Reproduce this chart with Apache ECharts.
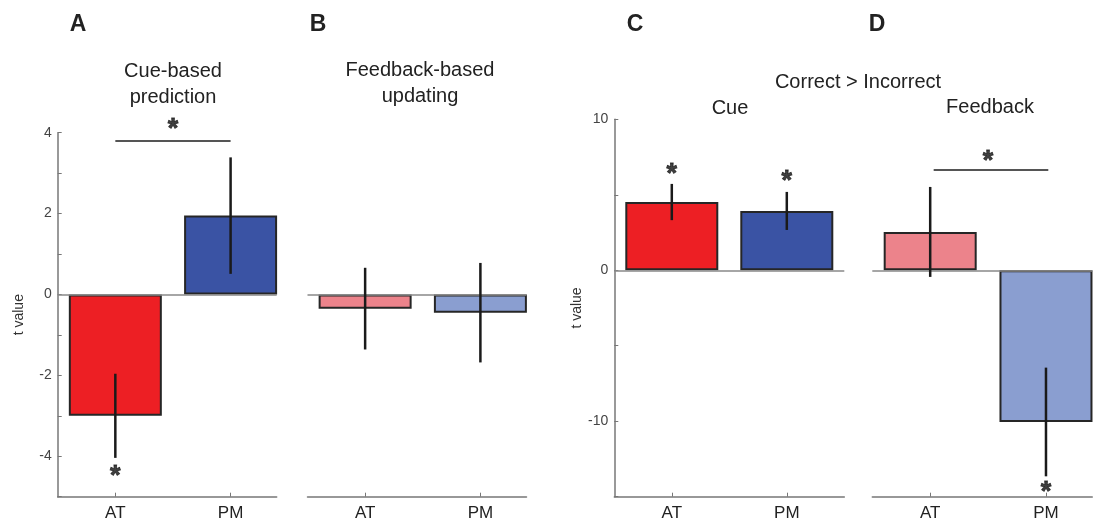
<!DOCTYPE html>
<html>
<head>
<meta charset="utf-8">
<script src="https://cdn.jsdelivr.net/npm/echarts@6/dist/echarts.min.js"></script>
<style>
  html, body { margin: 0; padding: 0; background: #fff; }
  #main { width: 1093px; height: 523px; }
</style>
</head>
<body>
<div id="main"></div>
<script>
// categories and values
var categories = ['AT', 'PM'];

var predMean = [-3.0, 1.95];   // A: cue-based prediction
var predErr = [1.04, 1.44];
var updMean = [-0.35, -0.45];  // B: feedback-based updating
var updErr = [1.01, 1.23];
var cueMean = [4.52, 3.93];    // C: correct > incorrect, cue
var cueErr = [1.2, 1.26];
var fbMean = [2.54, -10.05];   // D: correct > incorrect, feedback
var fbErr = [2.98, 3.6];

// significance marks [x, y]
var starsA = [[1.5, 4.23], [1, -4.35]];
var starsC = [[1, 6.77], [2, 6.29]];
var starsD = [[1.5, 7.6], [2, -14.3]];
var sigLineA = [1, 2, 3.81];
var sigLineD = [1.03, 2.02, 6.66];

var darkColors = ['#ED1F24', '#3A53A4'];
var lightColors = ['#EC838B', '#8A9ED0'];

var FONT = 'Liberation Sans, Arial, Helvetica, sans-serif';

var chart = echarts.init(document.getElementById('main'));

function makeX (idx, max) {
    return {
        type: 'value', gridIndex: idx, min: 0.5, max: max,
        axisLine: { show: true, onZero: false, lineStyle: { color: '#777', width: 1.5 } },
        axisTick: { show: true, inside: true, length: 4, customValues: [1, 2], lineStyle: { color: '#777' } },
        axisLabel: {
            customValues: [1, 2], margin: 8,
            color: '#222', fontSize: 17, fontFamily: FONT,
            formatter: function (v) { return categories[Math.round(v) - 1]; }
        },
        splitLine: { show: false }
    };
}

function makeY (idx, min, max, interval, labelStep, show, gap) {
    return {
        type: 'value', gridIndex: idx, min: min, max: max, interval: interval,
        name: show ? 't value' : '', nameLocation: 'middle', nameGap: gap || 0,
        nameTextStyle: { color: '#333', fontSize: 14, fontFamily: FONT },
        axisLine: { show: show, onZero: false, lineStyle: { color: '#777', width: 1.5 } },
        axisTick: { show: show, inside: true, length: 4, lineStyle: { color: '#777' } },
        axisLabel: {
            show: show, margin: 6, color: '#444', fontSize: 14, fontFamily: FONT,
            formatter: function (v) { return (v % labelStep === 0 && v !== min) ? String(v) : ''; }
        },
        splitLine: { show: false }
    };
}

function barSeries (idx, means, colors) {
    return {
        type: 'bar', xAxisIndex: idx, yAxisIndex: idx, barWidth: 93,
        data: means.map(function (m, i) {
            return { value: [i + 1, m], itemStyle: { color: colors[i] } };
        }),
        itemStyle: { borderColor: '#262626', borderWidth: 2 },
        markLine: {
            silent: true, symbol: 'none', label: { show: false },
            lineStyle: { color: '#888', width: 1.5, type: 'solid' },
            data: [{ yAxis: 0 }]
        },
        z: 2
    };
}

function errSeries (idx, means, errs) {
    return {
        type: 'custom', xAxisIndex: idx, yAxisIndex: idx, z: 5,
        data: means.map(function (m, i) { return [i + 1, m - errs[i], m + errs[i]]; }),
        renderItem: function (params, api) {
            var lo = api.coord([api.value(0), api.value(1)]);
            var hi = api.coord([api.value(0), api.value(2)]);
            return {
                type: 'line',
                shape: { x1: lo[0], y1: lo[1], x2: hi[0], y2: hi[1] },
                style: { stroke: '#1a1a1a', lineWidth: 2.5 }
            };
        }
    };
}

function starSeries (idx, pts, sig) {
    var s = {
        type: 'scatter', xAxisIndex: idx, yAxisIndex: idx, z: 6, clip: false,
        symbolSize: 1, itemStyle: { color: 'transparent' },
        data: pts,
        label: {
            show: true, formatter: '*', position: 'inside', offset: [0, 6],
            fontSize: 27, fontWeight: 'bold', color: '#111', fontFamily: FONT,
            textBorderColor: '#111', textBorderWidth: 0.8
        }
    };
    if (sig) {
        s.markLine = {
            silent: true, symbol: 'none', label: { show: false },
            lineStyle: { color: '#555', width: 2, type: 'solid' },
            data: [[{ coord: [sig[0], sig[2]] }, { coord: [sig[1], sig[2]] }]]
        };
    }
    return s;
}

function txt (x, y, text, size, bold) {
    return {
        type: 'text', x: x, y: y,
        style: {
            text: text, fill: '#222', font: (bold ? 'bold ' : '') + size + 'px ' + FONT,
            textAlign: 'center', textVerticalAlign: 'middle', lineHeight: 26
        }
    };
}

var option = {
    animation: false,
    grid: [
        { left: 57.7, top: 132.7, width: 219, height: 364 },
        { left: 307.5, top: 132.7, width: 219, height: 364 },
        { left: 614.3, top: 119.3, width: 230, height: 377.4 },
        { left: 872.3, top: 119.3, width: 220, height: 377.4 }
    ],
    xAxis: [makeX(0, 2.4), makeX(1, 2.4), makeX(2, 2.5), makeX(3, 2.4)],
    yAxis: [
        makeY(0, -5, 4, 1, 2, true, 32),
        makeY(1, -5, 4, 1, 2, false),
        makeY(2, -15, 10, 5, 10, true, 18),
        makeY(3, -15, 10, 5, 10, false)
    ],
    graphic: [
        txt(78, 25, 'A', 23, true),
        txt(318, 25, 'B', 23, true),
        txt(635, 25, 'C', 23, true),
        txt(877, 25, 'D', 23, true),
        txt(173, 84, 'Cue-based\nprediction', 20),
        txt(420, 83, 'Feedback-based\nupdating', 20),
        txt(858, 82, 'Correct > Incorrect', 20),
        txt(730, 108, 'Cue', 20),
        txt(990, 107, 'Feedback', 20)
    ],
    series: [
        barSeries(0, predMean, darkColors),
        errSeries(0, predMean, predErr),
        starSeries(0, starsA, sigLineA),
        barSeries(1, updMean, lightColors),
        errSeries(1, updMean, updErr),
        barSeries(2, cueMean, darkColors),
        errSeries(2, cueMean, cueErr),
        starSeries(2, starsC),
        barSeries(3, fbMean, lightColors),
        errSeries(3, fbMean, fbErr),
        starSeries(3, starsD, sigLineD)
    ]
};

chart.setOption(option);
</script>
</body>
</html>
